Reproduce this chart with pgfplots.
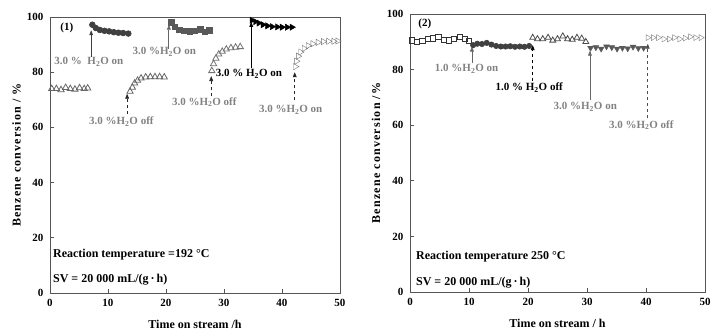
\documentclass[border=0pt]{standalone}
\usepackage{pgfplots}
\pgfplotsset{compat=1.18}
\usepackage{fontspec}
\setmainfont{Liberation Serif}
\usetikzlibrary{arrows.meta}
\definecolor{tgray}{RGB}{130,130,130}
\definecolor{axgray}{RGB}{85,85,85}
\newcommand{\hto}{H\textsubscript{2}O}
\pgfplotsset{
  panel/.style={
    scale only axis, xmin=0, xmax=50, ymin=0, ymax=100,
    xtick={0,10,...,50}, ytick={0,20,...,100},
    tick align=inside, xtick pos=bottom, ytick pos=left,
    axis line style={axgray, line width=0.9pt},
    major tick style={axgray, line width=0.9pt}, major tick length=4pt,
    ticklabel style={font=\bfseries\fontsize{11}{13}\selectfont},
    /pgf/number format/assume math mode=true,
    xticklabel style={yshift=-3pt},
    yticklabel style={xshift=-3pt},
    label style={font=\bfseries\fontsize{12}{14}\selectfont},
    xlabel style={at={(axis description cs:0.5,-0.112)}, anchor=center},
    ylabel style={at={(axis description cs:-0.115,0.5)}, anchor=center, rotate=0,
      font=\bfseries\fontsize{12}{14}\selectfont\addfontfeature{LetterSpace=10}},
    clip=false,
  },
}
\tikzset{
  ann/.style={font=\bfseries\fontsize{11}{13}\selectfont, text=tgray, inner sep=0pt},
  big/.style={font=\bfseries\fontsize{12}{14}\selectfont, text=black, inner sep=0pt, anchor=west},
  arr/.style={-{Triangle[length=5pt,width=3.8pt]}, line width=0.8pt},
  om/.style={only marks, mark options={line width=0.8pt}},
}
\begin{document}
\begin{tikzpicture}
\useasboundingbox (0,0) rectangle (724pt,334pt);
% ---------------- Panel (1)
\begin{axis}[panel, at={(50pt,41pt)}, anchor=south west, width=290pt, height=276pt,
  xlabel={Time on stream /h}, ylabel={Benzene conversion / \%}]
\addplot[om, mark=triangle, mark size=3.6pt, black!60] coordinates {
(0.3,74)(1.1,74)(1.9,73.6)(2.7,74.4)(3.5,74)(4.3,73.8)(5.1,74.3)(5.9,74)(6.5,74.2)};
\addplot[om, mark=*, mark size=2.8pt, black!75] coordinates {
(7.3,97.2)(7.9,96)(8.6,95.3)(9.4,95)(10.2,94.8)(11,94.5)(11.8,94.3)(12.6,94.2)(13.5,94)};
\addplot[om, mark=triangle, mark size=3.6pt, black!60] coordinates {
(13.8,73)(14.2,74.5)(14.6,76)(15.1,77)(15.7,77.8)(16.5,78.2)(17.3,78.3)(18.1,78.3)(18.9,78.3)(19.7,78.2)};
\addplot[om, mark=square*, mark size=2.7pt, black!65] coordinates {
(20.9,98)(21.5,96.5)(22.3,95.3)(23.2,95)(24.1,94.8)(25,95)(25.9,95.5)(26.7,94.6)(27.5,95.2)};
\addplot[om, mark=triangle, mark size=3.6pt, black!55] coordinates {
(27.9,80.5)(28.2,83)(28.6,85)(29.1,86.5)(29.7,87.5)(30.4,88.3)(31.2,88.8)(32,89)(32.8,89.2)};
\addplot[om, mark=triangle*, mark size=3.6pt, mark options={rotate=-90}, black] coordinates {
(34.8,98.8)(35.4,98.3)(36,97.8)(36.7,97.2)(37.5,96.8)(38.3,96.5)(39.2,96.4)(40,96.3)(40.9,96.3)(41.7,96.3)};
\addplot[om, mark=triangle, mark size=3.6pt, mark options={rotate=-90}, black!55] coordinates {
(42.3,82)(42.5,84)(42.8,85.8)(43.2,87.3)(43.8,88.6)(44.5,89.6)(45.3,90.3)(46.2,90.8)(47.1,91.1)(48,91.2)(48.9,91.2)(49.6,91.3)};
% annotations
\node[ann, text=black, anchor=center] at (axis cs:2.9,96) {(1)};
\draw[arr, black!75] (axis cs:7.1,85.5) -- (axis cs:7.1,95.2);
\node[ann] at (axis cs:6.7,83.7) {3.0 \%~~\hto{} on};
\draw[arr, black!60] (axis cs:20.5,88.5) -- (axis cs:20.5,97.2);
\node[ann] at (axis cs:19.7,87.3) {3.0 \%\hto{} on};
\draw[arr, dashed, black!85] (axis cs:13.3,65) -- (axis cs:13.3,72.2);
\node[ann] at (axis cs:12.3,62) {3.0 \%\hto{} off};
\draw[arr, dashed, black!85] (axis cs:27.8,71.3) -- (axis cs:27.8,78.6);
\node[ann] at (axis cs:26.6,69.2) {3.0 \%\hto{} off};
\draw[arr, black] (axis cs:34.7,81.5) -- (axis cs:34.7,98.2);
\node[ann, text=black] at (axis cs:34.3,79.3) {3.0 \% \hto{} on};
\draw[arr, dashed, black!85] (axis cs:42.2,69.8) -- (axis cs:42.2,80);
\node[ann] at (axis cs:41.5,66.3) {3.0 \%\hto{} on};
\node[big] at (axis cs:0.5,13.8) {Reaction temperature =192 °C};
\node[big] at (axis cs:0.5,4.7) {SV = 20 000 mL/(g\,·\,h)};
\end{axis}
% ---------------- Panel (2)
\begin{axis}[panel, at={(410pt,42pt)}, anchor=south west, width=295pt, height=278pt,
  xlabel={Time on stream / h}, ylabel={Benzene conversion /\%}]
\addplot[om, mark=square, mark size=2.6pt, black!80] coordinates {
(0.3,90.5)(1.2,90)(2.1,90.3)(3,91)(3.9,91.2)(4.8,91.8)(5.7,90.8)(6.6,90.5)(7.5,91)(8.4,91.8)(9.3,91)(10,90.3)};
\addplot[om, mark=*, mark size=2.6pt, black!75] coordinates {
(10.7,88.8)(11.4,89.3)(12.2,89.2)(13,89.6)(13.8,89)(14.6,88.5)(15.4,88.3)(16.2,88.3)(17,88.4)(17.8,88.2)(18.6,88.3)(19.4,88.2)(20.2,88.5)};
\addplot[om, mark=triangle, mark size=3.4pt, black!70] coordinates {
(20.8,91.5)(21.6,91)(22.5,91)(23.4,91.5)(24.2,90.5)(25,91)(25.9,92)(26.7,91)(27.5,90.8)(28.3,91.5)(29.1,91.2)(29.8,90)};
\addplot[om, mark=triangle*, mark size=3.4pt, mark options={rotate=180}, black!65] coordinates {
(30.6,87.8)(31.5,88)(32.4,87.5)(33.3,88.3)(34.2,88)(35.1,87.5)(36,87.8)(36.9,87.6)(37.8,88.2)(38.7,87.7)(39.6,87.8)};
\addplot[om, mark=triangle, mark size=3.4pt, mark options={rotate=-90}, black!50] coordinates {
(40.3,91.5)(41.2,91.5)(42.1,91.5)(43,91)(43.9,91)(44.8,91.5)(45.7,91)(46.6,91.3)(47.5,91.8)(48.4,91.5)(49.3,91.5)};
\node[ann, text=black, anchor=center] at (axis cs:2.5,96.4) {(2)};
\draw[arr, black!60] (axis cs:10.5,82.4) -- (axis cs:10.5,88.3);
\node[ann] at (axis cs:9.6,80.2) {1.0 \%\hto{} on};
\draw[arr, dashed, black] (axis cs:20.8,75.8) -- (axis cs:20.8,88.8);
\node[ann, text=black] at (axis cs:20.2,73.4) {1.0 \% \hto{} off};
\draw[arr, black!60] (axis cs:30.5,69.2) -- (axis cs:30.5,86.8);
\node[ann] at (axis cs:29.7,66.5) {3.0 \%\hto{} on};
\draw[arr, dashed, black!70] (axis cs:40.3,62.5) -- (axis cs:40.3,89.3);
\node[ann] at (axis cs:39.2,60) {3.0 \%\hto{} off};
\node[big] at (axis cs:1,12.9) {Reaction temperature 250 °C};
\node[big] at (axis cs:1,3.2) {SV = 20 000 mL/(g\,·\,h)};
\end{axis}
\end{tikzpicture}
\end{document}
